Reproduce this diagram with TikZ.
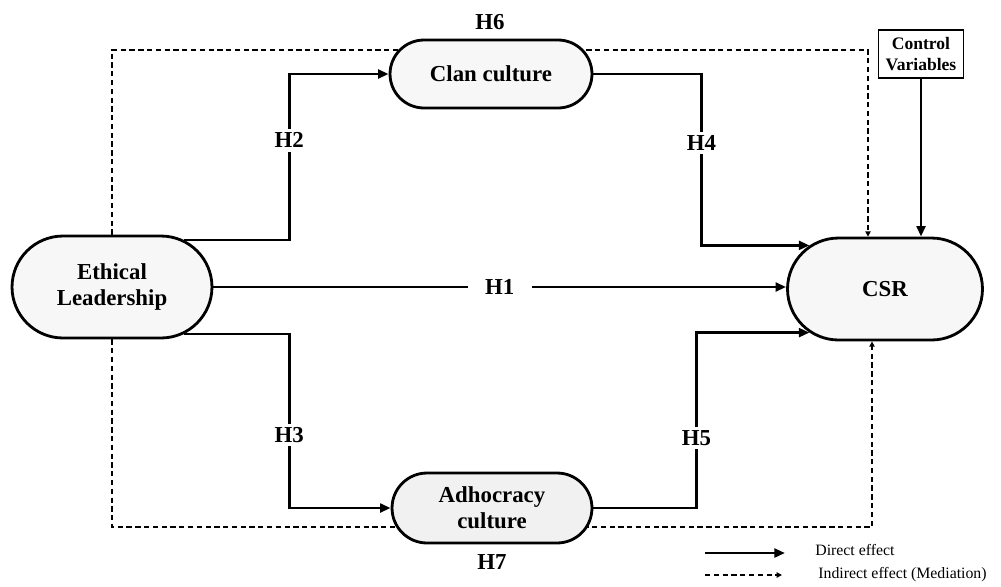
\documentclass[tikz,border=0pt]{standalone}
\usepackage{fontspec}
\setmainfont{Liberation Serif}
\usetikzlibrary{shapes.misc,arrows.meta,backgrounds}

\begin{document}
\begin{tikzpicture}[x=0.02cm, y=-0.02cm, font=\fontsize{13}{15}\selectfont\bfseries,
		construct/.style={rounded rectangle, draw, line width=1.6pt, fill=gray!6, align=center, inner sep=0pt},
		control/.style={draw, line width=0.6pt, fill=white, align=center, inner sep=0pt, minimum width=1.7cm, minimum height=0.96cm, font=\fontsize{10}{12}\selectfont\bfseries},
		direct/.style={line width=1.5pt, -{Triangle[length=6pt,width=5pt]}},
		indirect/.style={dash pattern=on 3pt off 2pt, line width=0.8pt, -{Triangle[length=3pt,width=3pt]}},
		hyp/.style={fill=white, inner sep=2pt},
		legend/.style={anchor=west, inner sep=0pt, font=\fontsize{9}{11}\selectfont\mdseries}]
		\useasboundingbox (0,0) rectangle (1001,586);

		\node[construct, minimum width=4cm, minimum height=2.04cm] (EL) at (112,287) {Ethical\\Leadership};
		\node[construct, minimum width=4.04cm, minimum height=1.36cm] (clan) at (491,74) {Clan culture};
		\node[construct, fill=gray!11, minimum width=4cm, minimum height=1.4cm] (adho) at (492,508) {Adhocracy\\culture};
		\node[construct, minimum width=3.9cm, minimum height=2.04cm] (CSR) at (885,289) {CSR};
		\node[control] (ctrl) at (921,54) {Control\\Variables};

		\draw[direct] (EL.33) -- ++(105,0) |- node[hyp, pos=.3] {H2} (clan.west);
		\draw[direct] (clan.east) -- ++(108,0) |- node[hyp, pos=.2] {H4} (CSR.150);
		\draw[direct] (EL.east) -- node[hyp, inner xsep=10pt] {H1} (EL.east -| CSR.west);
		\draw[direct] (EL.-33) -- ++(105,0) |- node[hyp, pos=.29] {H3} (adho.west);
		\draw[direct] (adho.east) -- ++(103,0) |- node[hyp, pos=.2] {H5} (CSR.-150);
		\draw[direct] (ctrl.south) -- (ctrl.south |- CSR.north);

		\begin{scope}[on background layer]
			\draw[indirect] (EL.north) |- node[pos=.75, above=8pt] (h6) {H6} (868,50) -- (868,0 |- CSR.north);
			\draw[indirect] (EL.south) |- node[pos=.75, below=12pt] (h7) {H7} (872,527) -- (872,0 |- CSR.south);
		\end{scope}

		\coordinate (d1) at (705,553);
		\coordinate (d2) at (785,553);
		\coordinate (i1) at (705,575);
		\coordinate (i2) at (782,575);
		\node[legend] (dtext) at (815,550) {Direct effect};
		\node[legend] (itext) at (818,575) {Indirect effect (Mediation)};
		\draw[direct] (d1) -- (d2);
		\draw[indirect] (i1) -- (i2);
	\end{tikzpicture}
\end{document}
